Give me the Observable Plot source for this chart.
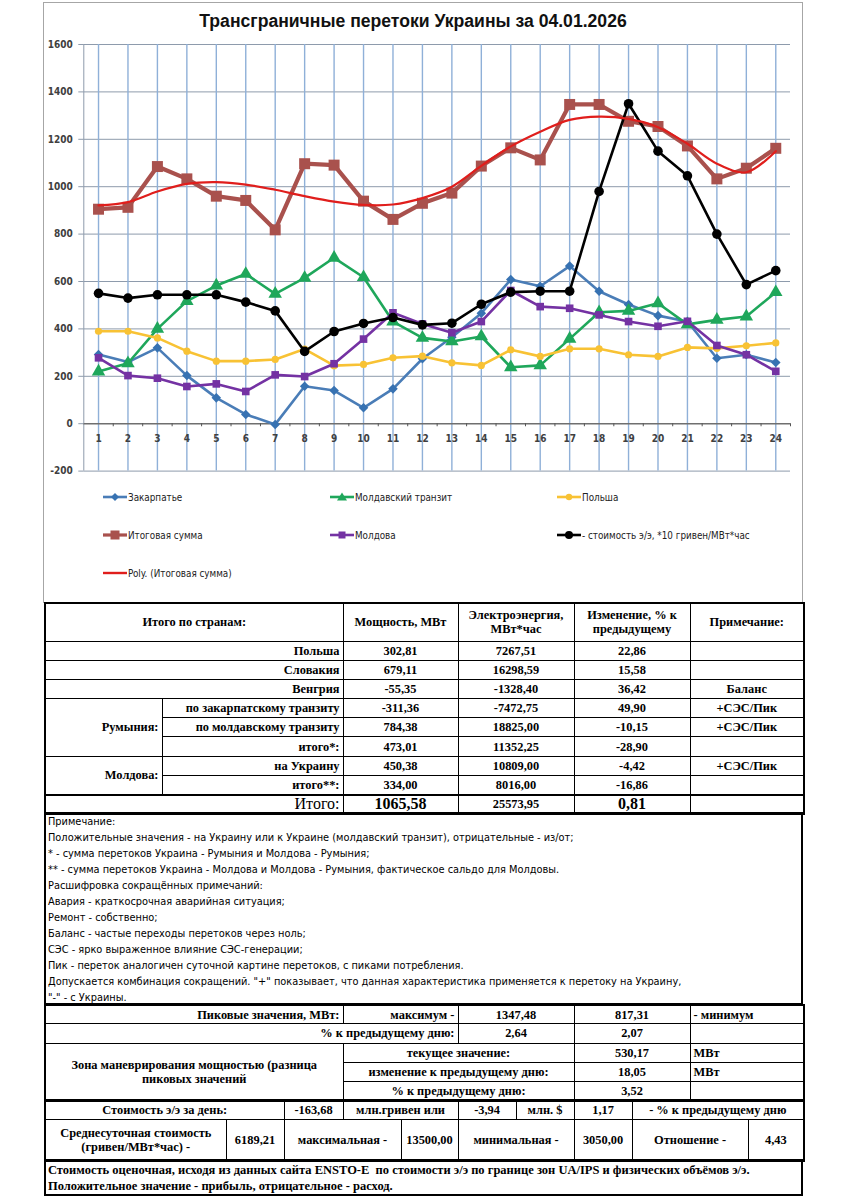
<!DOCTYPE html>
<html><head><meta charset="utf-8">
<script src="https://cdn.jsdelivr.net/npm/d3@7"></script>
<script src="https://cdn.jsdelivr.net/npm/@observablehq/plot@0.6"></script>
<style>
body{margin:0;background:#fff}
#page{position:relative;width:848px;height:1200px;background:#fff;overflow:hidden}
#frame{position:absolute;left:43px;top:2px;width:760px;height:601px;border:1px solid #a6a6a6;box-sizing:border-box}
#title{position:absolute;left:0;width:826px;top:11px;text-align:center;font:bold 17.6px "Liberation Sans",Arial,sans-serif;color:#111}
#chart{position:absolute;left:0;top:0}
.leg{position:absolute;font:9.8px "Liberation Sans Narrow","DejaVu Sans Condensed",sans-serif;color:#222;display:flex;align-items:center;height:14px;white-space:nowrap}
.leg svg{margin-right:1px}
table.t{position:absolute;left:44px;width:759px;border-collapse:collapse;table-layout:fixed;font:bold 12.4px "Liberation Serif","Times New Roman",serif;color:#000;border:2px solid #000}
table.t td{border:1px solid #000;padding:0 3px;text-align:center;white-space:nowrap;overflow:hidden;line-height:14px}
td.r{text-align:right !important}
td.l{text-align:left !important}
td.w{white-space:normal !important}
.box{position:absolute;left:44px;width:759px;border:2px solid #000;box-sizing:border-box}
#notes{font:10.9px "Liberation Sans Narrow","DejaVu Sans Condensed",sans-serif;color:#000;line-height:16px;padding:0 0 0 2px}
#foot{font:bold 12.5px "Liberation Serif","Times New Roman",serif;line-height:16px;padding:1px 0 0 2px}
</style></head>
<body><div id="page">
<div id="frame"></div>
<div id="title">Трансграничные перетоки Украины за 04.01.2026</div>
<div id="chart"></div>
<div id="legend"></div>
<div id="tables"></div>
</div>
<script>
// ---------- data ----------
const hours = [1,2,3,4,5,6,7,8,9,10,11,12,13,14,15,16,17,18,19,20,21,22,23,24];
const yTicks = [-200,0,200,400,600,800,1000,1200,1400,1600];
const zakarpatye = [292,260,320,203,109,39,-3,158,140,67,147,274,365,466,608,580,665,559,503,456,431,276,291,258];
const moldTransit = [220,255,400,517,583,632,548,615,700,618,431,362,347,368,238,246,358,470,476,508,419,438,452,555];
const poland = [390,390,362,306,264,264,271,315,245,250,278,285,257,246,312,284,316,316,291,284,322,318,329,341];
const totalSum = [905,913,1085,1033,960,942,818,1097,1091,939,862,930,973,1087,1164,1113,1347,1347,1276,1254,1172,1033,1078,1162];
const moldova = [278,203,192,157,168,136,206,199,253,357,468,421,384,431,562,494,487,459,431,411,432,330,291,221];
const cost10 = [550,530,544,544,544,513,476,305,389,423,448,417,424,504,555,559,559,980,1350,1150,1046,800,587,646];
const polyTotal = [921,935,980,1012,1019,1009,987,960,937,923,925,952,1000,1088,1170,1232,1282,1296,1286,1251,1181,1097,1061,1150];

const seriesNames = ["Закарпатье","Молдавский транзит","Польша","Итоговая сумма","Молдова","- стоимость э/э, *10 гривен/МВт*час","Poly. (Итоговая сумма)"];

// table data
const t1Header = ["Итого по странам:","Мощность, МВт","Электроэнергия, МВт*час","Изменение, % к предыдущему","Примечание:"];
const t1Groups = ["","","","Румыния:","","","Молдова:",""];
const t1Labels = ["Польша","Словакия","Венгрия","по закарпатскому транзиту","по молдавскому транзиту","итого*:","на Украину","итого**:"];
const t1Power = ["302,81","679,11","-55,35","-311,36","784,38","473,01","450,38","334,00"];
const t1Energy = ["7267,51","16298,59","-1328,40","-7472,75","18825,00","11352,25","10809,00","8016,00"];
const t1Change = ["22,86","15,58","36,42","49,90","-10,15","-28,90","-4,42","-16,86"];
const t1Note = ["","","Баланс","+СЭС/Пик","+СЭС/Пик","","+СЭС/Пик",""];
const t1Total = ["Итого:","1065,58","25573,95","0,81"];
const notesLines = [
 "Примечание:",
 "Положительные значения - на Украину или к Украине (молдавский транзит), отрицательные - из/от;",
 "* - сумма перетоков Украина - Румыния и Молдова - Румыния;",
 "** - сумма перетоков Украина - Молдова и Молдова - Румыния, фактическое сальдо для Молдовы.",
 "Расшифровка сокращённых примечаний:",
 "Авария - краткосрочная аварийная ситуация;",
 "Ремонт - собственно;",
 "Баланс - частые переходы перетоков через ноль;",
 "СЭС - ярко выраженное влияние СЭС-генерации;",
 "Пик - переток аналогичен суточной картине перетоков, с пиками потребления.",
 "Допускается комбинация сокращений. \"+\" показывает, что данная характеристика применяется к перетоку на Украину,",
 "\"-\" - с Украины."
];
const peakVals = ["1347,48","817,31"];
const peakPct = ["2,64","2,07"];
const zoneLabels = ["текущее значение:","изменение к предыдущему дню:","% к предыдущему дню:"];
const zoneVals = ["530,17","18,05","3,52"];
const zoneUnits = ["МВт","МВт",""];
const costDay = ["-163,68","-3,94","1,17"];
const avgCost = ["6189,21","13500,00","3050,00","4,43"];
const footLines = ["Стоимость оценочная, исходя из данных сайта ENSTO-E&nbsp; по стоимости э/э по границе зон UA/IPS и физических объёмов э/э.","Положительное значение - прибыль, отрицательное - расход."];

// ---------- styles ----------
const styles = [
 {values: zakarpatye, color:"#4a7db7", mcolor:"#3772b2", symbol:"diamond2", r:4.3, sw:2.6},
 {values: moldTransit, color:"#1fa75b", mcolor:"#1fa75b", symbol:"triangle", r:5, sw:2.6},
 {values: poland, color:"#f8c234", mcolor:"#f8c234", symbol:"circle", r:3.6, sw:2.6},
 {values: totalSum, color:"#a9514d", mcolor:"#a9514d", symbol:"square", r:6.2, sw:4.2},
 {values: moldova, color:"#7432a3", mcolor:"#7432a3", symbol:"square", r:4.3, sw:2.6},
 {values: cost10, color:"#000000", mcolor:"#000000", symbol:"circle", r:4.8, sw:2.6}
];
const rows = arr => hours.map((h,i)=>({hour:h, v:arr[i]}));
const font = "'Liberation Sans Narrow','DejaVu Sans Condensed',sans-serif";

const marks = [
 Plot.ruleY(yTicks.filter(d=>d!==0), {stroke:"#8e9bac", strokeWidth:1}),
 Plot.ruleX(hours, {y1:-200, y2:1600, stroke:"#8fb0d8", strokeWidth:1.4}),
 Plot.ruleX([0.5], {y1:-200, y2:1600, stroke:"#8e9bac", strokeWidth:1}),
 Plot.ruleY([0], {stroke:"#6f6f6f", strokeWidth:1.6}),
 Plot.ruleX(hours.map(h=>h+0.5), {y1:0, y2:-13, stroke:"#555", strokeWidth:1}),
 Plot.axisY(yTicks, {anchor:"left", label:null, tickSize:5, tickPadding:6, fontSize:10, fontWeight:"bold", fontFamily:font, stroke:"#8e9bac", fill:"#404040", tickFormat:d=>String(d)}),
 Plot.text(hours, {x:d=>d, y:0, dy:15, text:d=>String(d), fontSize:10, fontWeight:"bold", fontFamily:font, fill:"#404040"})
];
for (const s of styles) {
  marks.push(Plot.line(rows(s.values), {x:"hour", y:"v", stroke:s.color, strokeWidth:s.sw, strokeLinejoin:"round"}));
  marks.push(Plot.dot(rows(s.values), {x:"hour", y:"v", symbol:s.symbol, r:s.r, fill:s.mcolor, stroke:"none"}));
}
marks.push(Plot.line(rows(polyTotal), {x:"hour", y:"v", stroke:"#e01e1c", strokeWidth:2.2, curve:"catmull-rom"}));

const H = 480;
const chart = Plot.plot({
  width: 848, height: H,
  marginLeft: 83.3, marginRight: 58, marginTop: 44, marginBottom: H - 470.6,
  x: {type:"linear", domain:[0.5, 24.5], axis:null},
  y: {domain:[-200, 1600], axis:null},
  style: {background:"none", overflow:"visible", fontFamily:font},
  marks
});
document.getElementById("chart").appendChild(chart);

// ---------- legend ----------
function sample(st, isPoly){
  const w=24,h=12;
  let m="";
  if(!isPoly){
    const cx=12, cy=6, c=st.mcolor;
    if(st.symbol==="diamond2") m=`<path d="M${cx} ${cy-4}L${cx+4} ${cy}L${cx} ${cy+4}L${cx-4} ${cy}Z" fill="${c}"/>`;
    else if(st.symbol==="triangle") m=`<path d="M${cx} ${cy-4.5}L${cx+5} ${cy+3.5}L${cx-5} ${cy+3.5}Z" fill="${c}"/>`;
    else if(st.symbol==="square") { const a = st.r>5?4.5:3.5; m=`<rect x="${cx-a}" y="${cy-a}" width="${2*a}" height="${2*a}" fill="${c}"/>`; }
    else { const a = st.r>4?4:3.2; m=`<circle cx="${cx}" cy="${cy}" r="${a}" fill="${c}"/>`; }
  }
  const col = isPoly ? "#e01e1c" : st.color;
  const sw = isPoly ? 2.4 : Math.min(st.sw,3.2);
  return `<svg width="${w}" height="${h}"><line x1="0" y1="6" x2="${w}" y2="6" stroke="${col}" stroke-width="${sw}"/>${m}</svg>`;
}
const legPos = [[103,490],[330,490],[557,490],[103,528],[330,528],[557,528],[103,566]];
let lh="";
seriesNames.forEach((n,i)=>{
  const [x,y]=legPos[i];
  lh += `<div class="leg" style="left:${x}px;top:${y}px">${sample(styles[i]||{}, i===6)}${n}</div>`;
});
document.getElementById("legend").innerHTML = lh;

// ---------- tables ----------
let t = `<table class="t" style="top:602px"><colgroup><col style="width:117px"><col style="width:181px"><col style="width:115px"><col style="width:116px"><col style="width:116px"><col style="width:114px"></colgroup>`;
t += `<tr style="height:38px"><td colspan="2">${t1Header[0]}</td><td>${t1Header[1]}</td><td class="w">Электроэнергия,<br>МВт*час</td><td class="w">Изменение, % к<br>предыдущему</td><td>${t1Header[4]}</td></tr>`;
for(let i=0;i<t1Labels.length;i++){
  t += `<tr style="height:19.2px">`;
  if(i<3) t += `<td colspan="2" class="r">${t1Labels[i]}</td>`;
  else {
    if(i===3) t += `<td rowspan="3" class="r">${t1Groups[3]}</td>`;
    if(i===6) t += `<td rowspan="2" class="r">${t1Groups[6]}</td>`;
    t += `<td class="r">${t1Labels[i]}</td>`;
  }
  t += `<td>${t1Power[i]}</td><td>${t1Energy[i]}</td><td>${t1Change[i]}</td><td>${t1Note[i]}</td></tr>`;
}
t += `<tr style="height:19.5px;border-top:2px solid #000"><td colspan="2" class="r" style="font-weight:normal;font-size:16px">${t1Total[0]}</td><td style="font-size:16px">${t1Total[1]}</td><td>${t1Total[2]}</td><td style="font-size:16px">${t1Total[3]}</td><td></td></tr></table>`;

t += `<div class="box" id="notes" style="top:812px;height:193px">${notesLines.map(l=>`<div>${l.replace(/</g,"&lt;")}</div>`).join("")}</div>`;

t += `<table class="t" style="top:1004px"><colgroup><col style="width:298px"><col style="width:115px"><col style="width:116px"><col style="width:116px"><col style="width:114px"></colgroup>`;
t += `<tr style="height:18.5px"><td class="r">Пиковые значения, МВт:</td><td class="r">максимум -</td><td>${peakVals[0]}</td><td>${peakVals[1]}</td><td class="l">- минимум</td></tr>`;
t += `<tr style="height:19.5px"><td colspan="2" class="r">% к предыдущему дню:</td><td>${peakPct[0]}</td><td>${peakPct[1]}</td><td></td></tr>`;
for(let i=0;i<3;i++){
  t += `<tr style="height:19.3px">`;
  if(i===0) t += `<td rowspan="3" class="w">Зона маневрирования мощностью (разница<br>пиковых значений</td>`;
  t += `<td colspan="2">${zoneLabels[i]}</td><td>${zoneVals[i]}</td><td class="l">${zoneUnits[i]}</td></tr>`;
}
t += `</table>`;

t += `<table class="t" style="top:1099px"><colgroup><col style="width:181px"><col style="width:58px"><col style="width:59px"><col style="width:58px"><col style="width:57px"><col style="width:58px"><col style="width:58px"><col style="width:58px"><col style="width:116px"><col style="width:56px"></colgroup>`;
t += `<tr style="height:19.5px;border-top:2px solid #000"><td colspan="2">Стоимость э/э за день:</td><td>${costDay[0]}</td><td colspan="2">млн.гривен или</td><td>${costDay[1]}</td><td>млн. $</td><td>${costDay[2]}</td><td colspan="2">- % к предыдущему дню</td></tr>`;
t += `<tr style="height:41px"><td class="w">Среднесуточная стоимость<br>(гривен/МВт*час) -</td><td>${avgCost[0]}</td><td colspan="2">максимальная -</td><td>${avgCost[1]}</td><td colspan="2">минимальная -</td><td>${avgCost[2]}</td><td>Отношение -</td><td>${avgCost[3]}</td></tr>`;
t += `</table>`;

t += `<div class="box" id="foot" style="top:1159px;height:37px">${footLines.map(l=>`<div style="white-space:nowrap">${l}</div>`).join("")}</div>`;
document.getElementById("tables").innerHTML = t;
</script>
</body></html>
